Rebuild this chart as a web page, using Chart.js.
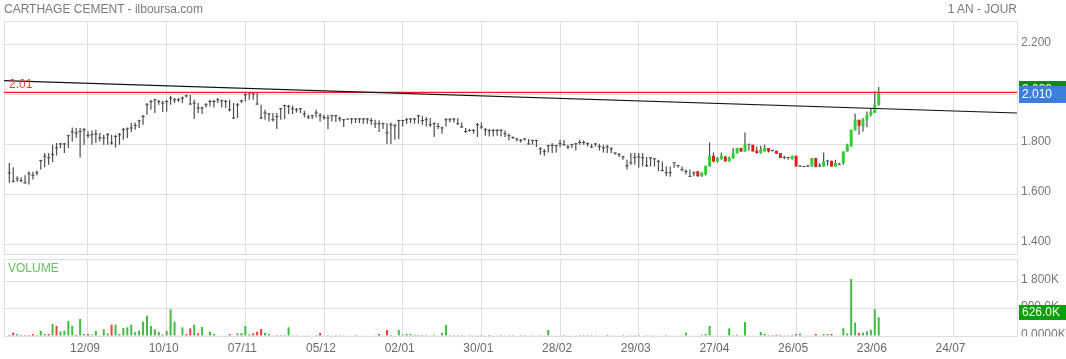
<!DOCTYPE html>
<html><head><meta charset="utf-8">
<script src="https://cdn.jsdelivr.net/npm/chart.js@4.4.0/dist/chart.umd.min.js"></script>
<style>
html,body{margin:0;padding:0;background:#fff;width:1066px;height:359px;overflow:hidden;font-family:"Liberation Sans",Arial,sans-serif}
#wrap{position:relative;width:1066px;height:359px}
canvas{position:absolute;left:0}
#cp{top:0}
#cv{top:257px}
.t{position:absolute;font-size:12px;color:#7a7a7a;white-space:nowrap;line-height:14px}
</style></head><body>
<div id="wrap">
<canvas id="cp" width="1066" height="257"></canvas>
<canvas id="cv" width="1066" height="102"></canvas>
<div class="t" style="left:4px;top:1.5px">CARTHAGE CEMENT - ilboursa.com</div>
<div class="t" style="right:49px;top:1.5px">1 AN - JOUR</div>
<div class="t" style="left:8px;top:260.5px;color:#62c262">VOLUME</div>
</div>
<script>
// ---- data ----
const ohlcHigh = [1.727,1.709,1.673,1.669,1.677,1.693,1.691,1.696,1.740,1.767,1.767,1.800,1.807,1.807,1.807,1.840,1.869,1.867,1.867,1.867,
1.853,1.857,1.860,1.847,1.840,1.847,1.840,1.840,1.847,1.867,1.869,1.887,1.889,1.900,1.920,1.967,1.980,1.984,1.980,1.976,
1.980,1.996,1.987,1.987,1.993,2.000,2.000,1.980,1.967,1.953,1.967,1.980,1.980,1.987,1.980,1.980,1.980,1.967,1.967,1.980,
2.011,2.011,2.011,2.011,1.960,1.940,1.927,1.927,1.927,1.947,1.960,1.960,1.957,1.947,1.947,1.936,1.920,1.920,1.940,1.927,
1.920,1.920,1.920,1.920,1.913,1.903,1.903,1.907,1.907,1.907,1.907,1.907,1.907,1.900,1.897,1.889,1.887,1.889,1.884,1.900,
1.900,1.907,1.907,1.907,1.920,1.916,1.911,1.907,1.889,1.887,1.873,1.907,1.907,1.907,1.907,1.889,1.867,1.863,1.863,1.887,
1.889,1.867,1.863,1.863,1.863,1.863,1.857,1.844,1.833,1.827,1.823,1.827,1.823,1.820,1.820,1.791,1.783,1.800,1.807,1.800,
1.820,1.820,1.800,1.804,1.807,1.820,1.817,1.809,1.804,1.807,1.804,1.800,1.800,1.791,1.769,1.767,1.756,1.740,1.767,1.767,
1.767,1.767,1.751,1.751,1.747,1.740,1.733,1.713,1.713,1.729,1.720,1.713,1.700,1.700,1.693];
const ohlcLow = [1.647,1.649,1.651,1.649,1.644,1.640,1.660,1.677,1.700,1.709,1.720,1.731,1.757,1.787,1.767,1.787,1.813,1.827,1.749,1.800,
1.827,1.800,1.807,1.813,1.800,1.800,1.800,1.789,1.800,1.820,1.827,1.851,1.860,1.867,1.880,1.920,1.940,1.927,1.960,1.931,
1.933,1.960,1.967,1.971,1.967,1.989,1.960,1.904,1.927,1.923,1.949,1.953,1.949,1.967,1.949,1.947,1.933,1.903,1.907,1.967,
1.973,1.980,1.980,1.960,1.903,1.900,1.893,1.893,1.863,1.900,1.903,1.923,1.923,1.929,1.927,1.909,1.903,1.903,1.909,1.893,
1.900,1.863,1.893,1.891,1.893,1.871,1.900,1.884,1.887,1.887,1.884,1.884,1.880,1.867,1.851,1.863,1.803,1.803,1.820,1.823,
1.873,1.884,1.887,1.884,1.884,1.880,1.873,1.871,1.831,1.863,1.844,1.873,1.889,1.889,1.880,1.867,1.847,1.853,1.844,1.831,
1.863,1.836,1.833,1.833,1.836,1.833,1.831,1.817,1.823,1.813,1.809,1.817,1.800,1.800,1.791,1.760,1.756,1.769,1.767,1.769,
1.791,1.796,1.783,1.787,1.777,1.800,1.800,1.793,1.787,1.793,1.777,1.769,1.767,1.767,1.760,1.751,1.740,1.700,1.720,1.720,
1.707,1.713,1.711,1.713,1.713,1.693,1.693,1.673,1.671,1.707,1.707,1.693,1.680,1.671,1.673];
const ohlcClose = [1.687,1.653,1.663,1.656,1.647,1.683,1.677,1.687,1.736,1.753,1.747,1.760,1.787,1.803,1.803,1.836,1.851,1.847,1.853,1.860,
1.837,1.840,1.843,1.827,1.827,1.840,1.807,1.833,1.840,1.860,1.863,1.867,1.877,1.896,1.913,1.960,1.973,1.980,1.973,1.967,
1.973,1.987,1.980,1.980,1.987,1.996,1.963,1.967,1.947,1.947,1.960,1.973,1.973,1.980,1.976,1.973,1.940,1.907,1.960,1.976,
2.000,2.007,2.004,1.963,1.907,1.927,1.923,1.900,1.913,1.944,1.957,1.953,1.944,1.940,1.944,1.923,1.911,1.916,1.927,1.916,
1.909,1.907,1.916,1.916,1.904,1.900,1.903,1.903,1.903,1.903,1.903,1.903,1.897,1.884,1.884,1.884,1.847,1.880,1.876,1.897,
1.897,1.900,1.903,1.903,1.916,1.897,1.900,1.880,1.884,1.873,1.867,1.900,1.900,1.903,1.884,1.871,1.853,1.857,1.857,1.880,
1.871,1.860,1.856,1.857,1.857,1.857,1.844,1.836,1.829,1.823,1.817,1.823,1.803,1.817,1.817,1.783,1.773,1.796,1.796,1.796,
1.804,1.800,1.791,1.800,1.804,1.809,1.809,1.804,1.791,1.803,1.793,1.787,1.791,1.783,1.767,1.760,1.751,1.716,1.727,1.749,
1.751,1.747,1.716,1.747,1.743,1.733,1.696,1.687,1.689,1.727,1.716,1.700,1.693,1.673,1.687];
const candleOpen  = [1.693,1.673,1.680,1.713,1.756,1.733,1.743,1.753,1.733,1.747,1.767,1.787,1.773,1.800,1.800,1.777,1.767,1.773,1.787,1.775,
1.776,1.767,1.747,1.747,1.743,1.756,1.713,1.711,1.713,1.713,1.747,1.713,1.713,1.733,1.736,1.713,1.720,1.727,1.773,1.793,
1.857,1.900,1.876,1.900,1.920,1.927,1.960];
const candleHigh  = [1.693,1.689,1.716,1.809,1.769,1.751,1.769,1.756,1.753,1.787,1.787,1.789,1.849,1.800,1.800,1.793,1.796,1.800,1.787,1.777,
1.776,1.767,1.756,1.751,1.756,1.756,1.716,1.713,1.720,1.747,1.747,1.727,1.769,1.740,1.736,1.740,1.727,1.773,1.804,1.860,
1.924,1.900,1.907,1.933,1.947,2.013,2.031];
const candleLow   = [1.671,1.671,1.676,1.713,1.729,1.729,1.740,1.733,1.733,1.743,1.764,1.771,1.773,1.777,1.773,1.764,1.764,1.773,1.769,1.773,
1.764,1.747,1.743,1.740,1.740,1.713,1.711,1.709,1.711,1.713,1.709,1.711,1.713,1.716,1.713,1.713,1.720,1.720,1.773,1.793,
1.857,1.840,1.853,1.871,1.913,1.927,1.956];
const candleClose = [1.673,1.687,1.716,1.756,1.733,1.747,1.756,1.733,1.749,1.767,1.787,1.773,1.800,1.800,1.773,1.767,1.780,1.787,1.773,1.775,
1.764,1.747,1.747,1.747,1.756,1.713,1.713,1.711,1.713,1.747,1.711,1.713,1.733,1.733,1.713,1.727,1.720,1.773,1.800,1.860,
1.900,1.876,1.900,1.920,1.931,1.960,2.009];
// volume in thousands
const volume = [33,111,67,33,33,33,67,33,167,67, 67,400,333,156,178,500,333,44,567,67,
67,44,167,22,222,89,378,378,67,267, 289,378,133,178,478,678,333,222,133,44,
167,889,478,22,289,67,256,378,89,300, 11,144,67,22,11,11,67,22,89,100,
333,56,89,144,233,100,67,11,33,33, 33,289,5,5,22,22,5,22,5,100,
22,5,11,5,5,11,11,11,33,15, 11,11,15,22,67,22,200,33,11,200,
44,67,67,44,33,33,33,11,44,11, 111,367,33,5,5,5,11,5,11,5,
5,11,33,22,11,5,11,5,5,11, 5,5,11,5,11,5,11,200,22,11,
11,33,11,11,22,33,5,5,5,5, 11,11,33,22,11,11,5,11,5,5,
5,11,5,11,11,22,22,33,22,22, 11,22,111,22,22,11,44,67,333,22,
11,11,11,256,33,44,11,467,11,11, 11,133,67,33,33,44,33,22,33,33,
67,78,22,11,22,67,22,67,67,67, 11,11,256,89,1900,444,100,111,156,211,
889,626];
const volumeUp = [0,0,1,0,0,0,0,1,1,1, 0,1,0,1,1,1,1,0,1,1, 0,1,1,0,1,1,0,1,1,1, 1,1,1,1,1,1,1,1,1,0,
1,1,1,0,1,0,0,1,0,1, 0,1,1,1,0,1,0,0,1,1, 1,1,0,0,0,1,1,0,0,1, 1,1,1,0,1,0,1,1,0,0,
1,1,1,0,1,1,1,1,1,1, 1,0,1,0,0,1,0,1,1,1, 1,1,1,1,1,1,1,1,1,1, 1,1,1,1,0,1,1,0,1,1,
0,0,0,0,1,0,0,1,0,1, 1,0,1,1,0,0,1,1,1,1, 1,1,1,0,1,1,0,1,0,0, 1,1,0,0,1,1,0,1,1,1,
0,1,1,0,0,0,0,1,0,0, 0,0,1,1,1,0,1,1,1,0, 1,1,0,1,1,1,0,1,1,0, 0,1,1,0,0,0,0,1,1,1,
0,1,1,0,1,0,1,1,1,0, 1,1,1,1,1,1,0,1,1,1, 1,1];
const xTickIndex  = [20,40,60,80,100,120,140,160,180,200,220,240];
const xTickLabels = ['12/09','10/10','07/11','05/12','02/01','30/01','28/02','29/03','27/04','26/05','23/06','24/07'];
const priceTicks = [1.4,1.6,1.8,2.0,2.2];
const volTicks = [0,900,1800];
const volTickLabels = ['0.0000K','900.0K','1 800K'];
const resistance = 2.01;
const trendX = [-1.35, 256.15];
const trendY = [2.057, 1.927];
const lastPrice = 2.010, highBadge = 2.030, lastVolume = 626.0;

// ---- config ----
const X_MIN = -1.35, X_MAX = 256.15;
const PRICE_MIN = 1.36, PRICE_MAX = 2.296;
const VOL_MAX = 2565;
const GRID = '#dfdfdf';
const BAR = '#4c4c4c', UP = '#2bd42b', DOWN = '#dc1f1f';
const VUP = '#3fbd3f', VDOWN = '#f23c3c';

Chart.defaults.font.family = "'Liberation Sans', Arial, sans-serif";
Chart.defaults.font.size = 12;
Chart.defaults.animation = false;

function noPad(ax){ ax.paddingTop = 0; ax.paddingBottom = 0; ax.paddingLeft = 0; ax.paddingRight = 0; }
function makeX(showLabels){
  return {
    type:'linear', min:X_MIN, max:X_MAX, bounds:'data', offset:false,
    grid:{color:GRID, drawTicks:false, offset:false},
    border:{display:true, color:GRID},
    afterBuildTicks(ax){ ax.ticks = xTickIndex.map(v=>({value:v})); },
    ticks:{display:showLabels, autoSkip:false, maxRotation:0, minRotation:0, padding:5, labelOffset:-3, color:'#6a6a6a',
      callback:(v,i)=>xTickLabels[i]},
    afterFit(ax){ ax.height = showLabels ? 23 : 2; noPad(ax); }
  };
}
function frame(chart){
  const a = chart.chartArea, c = chart.ctx;
  c.save(); c.strokeStyle = GRID; c.lineWidth = 1;
  const l = Math.round(a.left)+0.5, t = Math.round(a.top)+0.5, r = Math.round(a.right)+0.5, b = Math.round(a.bottom)+0.5;
  c.strokeRect(l, t, r-l, b-t); c.restore();
}
function badge(c, x, w, yc, h, color, text){
  c.fillStyle = color; c.fillRect(x, Math.round(yc - h/2), w, h);
  c.fillStyle = '#fff'; c.font = "12px 'Liberation Sans', Arial, sans-serif";
  c.textBaseline = 'middle'; c.textAlign = 'left';
  c.fillText(text, x + 3, yc + 0.5);
}

const nO = ohlcClose.length;
const allHigh = ohlcHigh.concat(candleHigh), allLow = ohlcLow.concat(candleLow);

const priceDecor = {
  id:'priceDecor',
  beforeDatasetsDraw(chart){ frame(chart); },
  afterDatasetsDraw(chart){
    const c = chart.ctx, ys = chart.scales.y, a = chart.chartArea;
    c.save(); c.fillStyle = '#f03a3a'; c.font = "12px 'Liberation Sans', Arial, sans-serif";
    c.textBaseline = 'alphabetic'; c.textAlign = 'left';
    c.fillText(resistance.toFixed(2), a.left + 5, ys.getPixelForValue(resistance) - 4.5);
    c.restore();
  },
  afterDraw(chart){
    const c = chart.ctx, ys = chart.scales.y, a = chart.chartArea;
    const x = Math.round(a.right) + 2, w = chart.width - x;
    c.save();
    badge(c, x, w, ys.getPixelForValue(highBadge) + 1.5, 16, '#16871a', highBadge.toFixed(3));
    badge(c, x, w, ys.getPixelForValue(lastPrice) + 2, 17, '#3b7fe0', lastPrice.toFixed(3));
    c.restore();
  }
};

new Chart(document.getElementById('cp'), {
  type:'bar',
  data:{ datasets:[
    {type:'line', data:trendX.map((x,i)=>({x, y:trendY[i]})), borderColor:'#111', borderWidth:1.2, pointRadius:0, order:0},
    {type:'line', data:[{x:X_MIN,y:resistance},{x:X_MAX,y:resistance}], borderColor:'#ff1a1a', borderWidth:1.3, pointRadius:0, order:0},
    {type:'bar', data:candleClose.map((c,k)=>({x:nO+k, y:[candleOpen[k], c]})),
      backgroundColor:ctx=>{const k=ctx.dataIndex; const o=candleOpen[k], c=candleClose[k]; return c>o?UP:(c<o?DOWN:BAR);},
      barThickness:3, minBarLength:1, borderWidth:0, inflateAmount:0, grouped:false, order:1},
    {type:'bar', data:allHigh.map((h,i)=>({x:i, y:[allLow[i], h]})), backgroundColor:BAR,
      barThickness:1.2, borderWidth:0, inflateAmount:0, grouped:false, order:2},
    {type:'line', data:ohlcClose.map((c,i)=>({x:i, y:c})), showLine:false, pointStyle:'line', pointRadius:1.6,
      pointBorderColor:BAR, pointBorderWidth:1, pointHoverRadius:0, order:2}
  ]},
  options:{
    responsive:false, devicePixelRatio:1, animation:false, events:[],
    layout:{padding:{left:4, top:21, right:0, bottom:0}},
    plugins:{legend:{display:false}, tooltip:{enabled:false}},
    scales:{
      x: makeX(false),
      y: {type:'linear', position:'right', min:PRICE_MIN, max:PRICE_MAX, bounds:'data',
        afterBuildTicks(ax){ ax.ticks = priceTicks.map(v=>({value:v})); },
        grid:{color:GRID, drawTicks:false}, border:{display:false},
        ticks:{padding:4, labelOffset:-2.5, color:'#777', callback:v=>Number(v).toFixed(3)},
        afterFit(ax){ ax.width = 49; noPad(ax); }}
    }
  },
  plugins:[priceDecor]
});

const volDecor = {
  id:'volDecor',
  beforeDatasetsDraw(chart){ frame(chart); },
  afterDraw(chart){
    const c = chart.ctx, ys = chart.scales.y, a = chart.chartArea;
    const x = Math.round(a.right) + 2, w = chart.width - x;
    c.save();
    c.beginPath(); c.rect(a.right, 0, chart.width - a.right, a.bottom + 0.5); c.clip();
    c.fillStyle = '#777'; c.font = "12px 'Liberation Sans', Arial, sans-serif";
    c.textBaseline = 'middle'; c.textAlign = 'left';
    volTicks.forEach((v,i)=>{
      const off = v === 0 ? -1.5 : -2.5;
      c.fillText(volTickLabels[i], a.right + 4, ys.getPixelForValue(v) + off);
    });
    c.restore();
    c.save();
    badge(c, x, w, ys.getPixelForValue(lastVolume) - 4.7, 15, '#08a008', lastVolume.toFixed(1) + 'K');
    c.restore();
  }
};

new Chart(document.getElementById('cv'), {
  type:'bar',
  data:{ datasets:[
    {type:'bar', data:volume.map((v,i)=>({x:i, y:v})), backgroundColor:volume.map((v,i)=>volumeUp[i]?VUP:VDOWN),
      barThickness:2, borderWidth:0, inflateAmount:0, grouped:false}
  ]},
  options:{
    responsive:false, devicePixelRatio:1, animation:false, events:[],
    layout:{padding:{left:4, top:2, right:0, bottom:0}},
    plugins:{legend:{display:false}, tooltip:{enabled:false}},
    scales:{
      x: makeX(true),
      y: {type:'linear', position:'right', min:0, max:VOL_MAX, bounds:'data',
        afterBuildTicks(ax){ ax.ticks = volTicks.map(v=>({value:v})); },
        grid:{color:GRID, drawTicks:false}, border:{display:false},
        ticks:{display:false},
        afterFit(ax){ ax.width = 49; noPad(ax); }}
    }
  },
  plugins:[volDecor]
});
</script>
</body></html>
